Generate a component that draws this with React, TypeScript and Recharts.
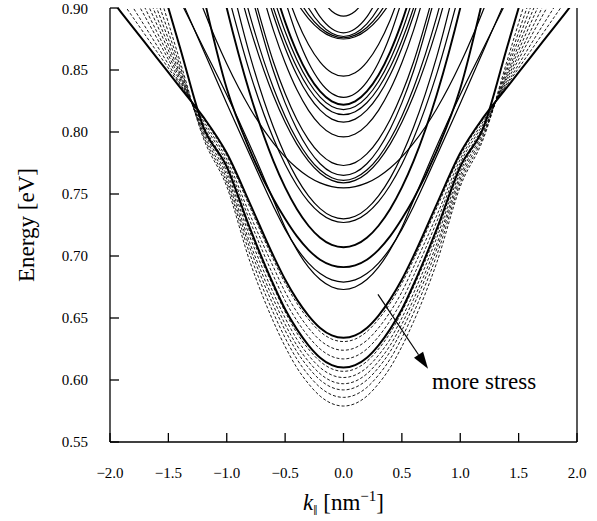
import React from 'react';
import { LineChart, Line, XAxis, YAxis, ReferenceLine } from 'recharts';

// k values (nm^-1) at which each subband energy was read; curves are symmetric in k
const K_HALF = [0, 0.1, 0.2, 0.3, 0.4, 0.5, 0.6, 0.8, 1.0, 1.2, 1.4, 1.6, 1.8, 2.0];

const X_TICKS = [-2, -1.5, -1, -0.5, 0, 0.5, 1, 1.5, 2];
const Y_TICKS = [0.55, 0.6, 0.65, 0.7, 0.75, 0.8, 0.85, 0.9];

// higher subbands (solid), energies in eV at K_HALF
const UPPER_BANDS = [
  [0.8935, 0.8974, 0.9089],
  [0.88, 0.8832, 0.8928, 0.9088],
  [0.877, 0.8796, 0.8872, 0.9, 0.918],
  [0.876, 0.8781, 0.8843, 0.8947, 0.9093],
  [0.875, 0.8768, 0.8823, 0.8915, 0.9043],
  [0.845, 0.8478, 0.8564, 0.8706, 0.8904, 0.916],
  [0.828, 0.8311, 0.8405, 0.8561, 0.878, 0.9061],
  [0.822, 0.8247, 0.8327, 0.846, 0.8647, 0.8888, 0.9181],
  [0.818, 0.8205, 0.8281, 0.8407, 0.8583, 0.881, 0.9087],
  [0.814, 0.8164, 0.8236, 0.8355, 0.8522, 0.8738, 0.9, 0.967],
  [0.808, 0.8104, 0.8176, 0.8295, 0.8462, 0.8678, 0.894, 0.961],
  [0.796, 0.7984, 0.8056, 0.8175, 0.8342, 0.8558, 0.882, 0.949],
  [0.773, 0.7753, 0.7823, 0.7939, 0.8101, 0.831, 0.8565, 0.9215],
  [0.765, 0.7673, 0.7744, 0.7861, 0.8024, 0.8235, 0.8492, 0.9148],
  [0.761, 0.7631, 0.7693, 0.7796, 0.7941, 0.8128, 0.8355, 0.8935, 0.968],
  [0.759, 0.761, 0.7668, 0.7766, 0.7902, 0.8078, 0.8292, 0.8838, 0.954],
  [0.755, 0.756, 0.759, 0.764, 0.771, 0.78, 0.791, 0.819, 0.855, 0.899, 0.951],
  [0.73, 0.732, 0.7382, 0.7485, 0.7628, 0.7813, 0.8038, 0.8612, 0.935],
  [0.727, 0.7289, 0.7345, 0.7439, 0.7571, 0.774, 0.7947, 0.8473, 0.915],
  [0.707, 0.7089, 0.7147, 0.7244, 0.7379, 0.7553, 0.7765, 0.8305, 0.9, 0.985],
  [0.691, 0.6925, 0.697, 0.705, 0.716, 0.73, 0.746, 0.785, 0.835, 0.91],
  [0.679, 0.6807, 0.6858, 0.6943, 0.7062, 0.7215, 0.74, 0.781, 0.823, 0.866, 0.909],
  [0.673, 0.675, 0.681, 0.691, 0.705, 0.723, 0.745, 0.789, 0.83, 0.868, 0.906],
];
// bands drawn heavier (near-degenerate pairs)
const THICK_UPPER = [7, 19, 20];

// lowest subband, two stress levels (solid, heavy)
const LOWEST_SOLID = [
  [0.634, 0.636, 0.642, 0.652, 0.665, 0.681, 0.7, 0.742, 0.783, 0.812, 0.836, 0.86, 0.884, 0.908],
  [0.61, 0.612, 0.618, 0.628, 0.641, 0.657, 0.677, 0.722, 0.772, 0.804, 0.868, 0.932],
];

// lowest subband, increasing stress (dashed)
const LOWEST_DASHED = [
  [0.631, 0.633, 0.639, 0.649, 0.662, 0.678, 0.697, 0.739, 0.781, 0.811, 0.838, 0.865, 0.892, 0.919],
  [0.624, 0.626, 0.632, 0.642, 0.655, 0.671, 0.691, 0.733, 0.778, 0.809, 0.839, 0.87, 0.9, 0.93],
  [0.617, 0.619, 0.625, 0.635, 0.648, 0.664, 0.684, 0.728, 0.775, 0.807, 0.841, 0.876, 0.91],
  [0.607, 0.609, 0.615, 0.625, 0.638, 0.655, 0.675, 0.719, 0.771, 0.805, 0.843, 0.881, 0.919],
  [0.602, 0.604, 0.61, 0.62, 0.633, 0.65, 0.67, 0.715, 0.768, 0.803, 0.845, 0.887, 0.929],
  [0.597, 0.599, 0.605, 0.615, 0.628, 0.645, 0.665, 0.71, 0.765, 0.801, 0.847, 0.893, 0.939],
  [0.592, 0.594, 0.6, 0.61, 0.623, 0.64, 0.66, 0.706, 0.762, 0.799, 0.85, 0.9, 0.951],
  [0.586, 0.588, 0.594, 0.604, 0.617, 0.634, 0.654, 0.701, 0.759, 0.797, 0.853, 0.908],
  [0.579, 0.581, 0.587, 0.597, 0.61, 0.627, 0.647, 0.695, 0.756, 0.795, 0.857, 0.919],
];

// "more stress" arrow, from / to in (k, E)
const ARROW_FROM = { x: 0.295, y: 0.669 };
const ARROW_TO = { x: 0.724, y: 0.609 };

const FONT = '"Liberation Serif", "Times New Roman", serif';

// build a full symmetric curve from the k >= 0 readings
const toPoints = (vals: number[]) => {
  const pts: { k: number; e: number }[] = [];
  for (let i = vals.length - 1; i > 0; i--) pts.push({ k: -K_HALF[i], e: vals[i] });
  for (let i = 0; i < vals.length; i++) pts.push({ k: K_HALF[i], e: vals[i] });
  return pts;
};

const fmtX = (v: number) => (v < 0 ? '\u2212' : '') + Math.abs(v).toFixed(1);
const fmtY = (v: number) => v.toFixed(2);

const Arrow = (props: any) => {
  const { x1, y1, x2, y2 } = props;
  const ang = Math.atan2(y2 - y1, x2 - x1);
  const len = 17;
  const half = 5.5;
  const bx = x2 - len * Math.cos(ang);
  const by = y2 - len * Math.sin(ang);
  const px = -Math.sin(ang) * half;
  const py = Math.cos(ang) * half;
  return (
    <g>
      <line x1={x1} y1={y1} x2={bx} y2={by} stroke="#000" strokeWidth={1.2} />
      <polygon points={`${x2},${y2} ${bx + px},${by + py} ${bx - px},${by - py}`} fill="#000" />
      <text x={x2 + 4} y={y2 + 20} fontFamily={FONT} fontSize={23} fill="#000">
        more stress
      </text>
    </g>
  );
};

const XLabel = (props: any) => {
  const { x, y, width } = props.viewBox;
  return (
    <text x={x + width / 2} y={y + 68} textAnchor="middle" fontFamily={FONT} fontSize={23} fill="#000">
      <tspan fontStyle="italic">k</tspan>
      <tspan fontSize={15} dy={5}>{'\u2016'}</tspan>
      <tspan dy={-5}> [nm</tspan>
      <tspan fontSize={15} dy={-9}>{'\u22121'}</tspan>
      <tspan dy={9}>]</tspan>
    </text>
  );
};

const tickStyle = { fill: '#000', fontSize: 15, fontFamily: FONT };
const axisStyle = { stroke: '#000', strokeWidth: 1.3 };

export default function App() {
  return (
    <div style={{ position: 'absolute', left: 0, top: 0, background: '#fff' }}>
      <LineChart width={597} height={521} margin={{ top: 8, right: 0, left: 0, bottom: 0 }}>
        <XAxis
          dataKey="k"
          type="number"
          domain={[-2, 2]}
          ticks={X_TICKS}
          tickFormatter={fmtX}
          allowDataOverflow
          height={79}
          tick={tickStyle}
          tickSize={-9}
          tickMargin={34}
          tickLine={axisStyle}
          axisLine={axisStyle}
          label={XLabel}
        />
        <XAxis
          xAxisId="top"
          orientation="top"
          type="number"
          domain={[-2, 2]}
          height={0}
          tick={false}
          tickLine={false}
          axisLine={axisStyle}
        />
        <YAxis
          type="number"
          domain={[0.55, 0.9]}
          ticks={Y_TICKS}
          tickFormatter={fmtY}
          allowDataOverflow
          width={110}
          tick={tickStyle}
          tickSize={-9}
          tickMargin={31}
          tickLine={axisStyle}
          axisLine={axisStyle}
          label={{
            value: 'Energy [eV]',
            angle: -90,
            position: 'insideLeft',
            offset: 26,
            style: { textAnchor: 'middle', fontFamily: FONT, fontSize: 23, fill: '#000' },
          }}
        />
        <YAxis
          yAxisId="right"
          orientation="right"
          type="number"
          domain={[0.55, 0.9]}
          ticks={Y_TICKS}
          tickFormatter={() => ''}
          width={20}
          tickSize={-9}
          tickLine={axisStyle}
          axisLine={axisStyle}
        />

        {LOWEST_DASHED.map((vals, i) => (
          <Line
            key={`d${i}`}
            data={toPoints(vals)}
            dataKey="e"
            type="monotone"
            stroke="#000"
            strokeWidth={0.9}
            strokeDasharray="3 2"
            dot={false}
            activeDot={false}
            isAnimationActive={false}
          />
        ))}
        {UPPER_BANDS.map((vals, i) => (
          <Line
            key={`u${i}`}
            data={toPoints(vals)}
            dataKey="e"
            type="monotone"
            stroke="#000"
            strokeWidth={THICK_UPPER.includes(i) ? 1.9 : 1.2}
            dot={false}
            activeDot={false}
            isAnimationActive={false}
          />
        ))}
        {LOWEST_SOLID.map((vals, i) => (
          <Line
            key={`s${i}`}
            data={toPoints(vals)}
            dataKey="e"
            type="monotone"
            stroke="#000"
            strokeWidth={2}
            dot={false}
            activeDot={false}
            isAnimationActive={false}
          />
        ))}

        <ReferenceLine segment={[ARROW_FROM, ARROW_TO]} shape={Arrow} />
      </LineChart>
    </div>
  );
}
